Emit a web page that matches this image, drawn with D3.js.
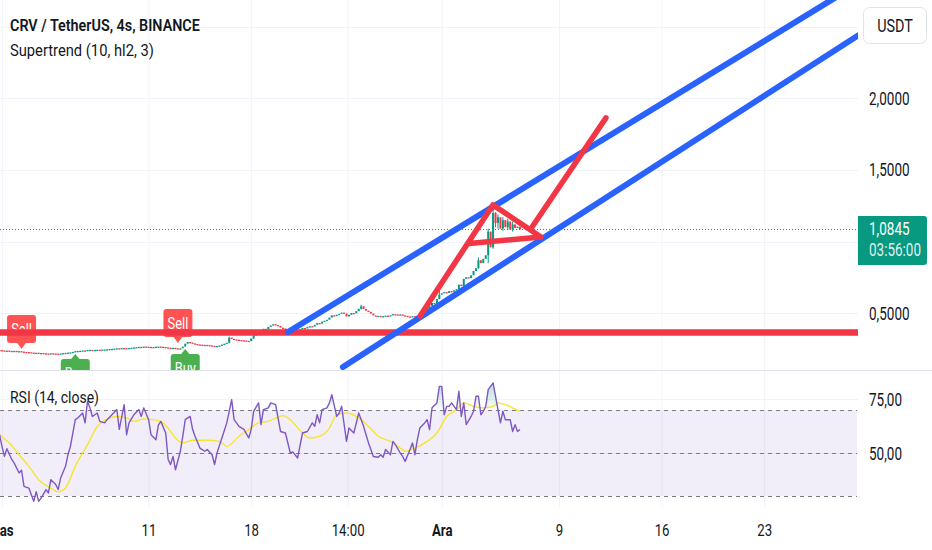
<!DOCTYPE html>
<html><head><meta charset="utf-8">
<script src="https://cdn.jsdelivr.net/npm/d3@7"></script>
<style>
html,body{margin:0;padding:0;background:#fff;}
svg{display:block;font-family:Roboto,"Noto Sans",sans-serif;}
</style>
</head><body>
<svg id="chart" width="932" height="550"></svg>
<script>
// ================= DATA =================
// 4h closes, CRV/USDT (bar 0 = 31 Oct evening, one bar per 4 hours)
const closes = [
0.243,0.241,0.239,0.240,0.238,0.237,0.238,0.235,0.236,0.233,
0.231,0.230,0.228,0.226,0.224,0.225,0.222,0.223,0.221,0.220,
0.219,0.221,0.220,0.219,0.218,0.220,0.222,0.224,0.226,0.228,
0.231,0.236,0.237,0.239,0.241,0.240,0.244,0.245,0.243,0.245,
0.246,0.245,0.247,0.248,0.249,0.251,0.252,0.254,0.256,0.253,
0.258,0.257,0.256,0.258,0.260,0.262,0.264,0.266,0.265,0.268,
0.267,0.266,0.264,0.265,0.267,0.268,0.267,0.265,0.262,0.260,
0.258,0.259,0.256,0.252,0.256,0.268,0.288,0.300,0.296,0.290,
0.286,0.283,0.281,0.279,0.280,0.278,0.276,0.273,0.270,0.272,
0.276,0.282,0.288,0.295,0.330,0.322,0.318,0.316,0.314,0.312,
0.310,0.308,0.306,0.325,0.345,0.360,0.358,0.375,0.392,0.388,
0.405,0.415,0.424,0.418,0.412,0.400,0.395,0.382,0.370,0.376,
0.372,0.380,0.378,0.388,0.398,0.394,0.405,0.410,0.408,0.420,
0.432,0.428,0.442,0.448,0.455,0.470,0.486,0.480,0.490,0.496,
0.505,0.498,0.478,0.490,0.502,0.500,0.515,0.532,0.548,0.530,
0.518,0.510,0.498,0.485,0.480,0.482,0.478,0.480,0.484,0.480,
0.486,0.494,0.492,0.490,0.492,0.486,0.482,0.478,0.476,0.480,
0.478,0.484,0.482,0.494,0.506,0.528,0.550,0.572,0.566,0.600,
0.630,0.640,0.648,0.642,0.655,0.650,0.660,0.668,0.700,0.690,
0.740,0.752,0.745,0.765,0.795,0.815,0.870,0.850,0.880,0.905,
1.070,0.960,1.200,1.130,1.170,1.090,1.150,1.100,1.140,1.085,
1.120,1.095,1.105,1.0845
];
const firstOpen = 0.244;
const firstBarDay = -0.194;   // days since 1 Nov of bar 0
const barsPerDay = 6;
// visible wicks: [bar, high, low]
const wicks = [
[94,0.338,0.290],[104,0.352,0.322],[148,0.560,0.526],[180,0.660,0.598],
[196,0.890,0.810],[200,1.090,0.850],[202,1.270,0.950],[203,1.205,1.100],
[204,1.190,1.090],[206,1.170,1.075],[208,1.160,1.080],[210,1.140,1.070]
];
// RSI(14) readings: [bar, value]
const rsi = [
[0,58.5],[1,53],[2,48.5],[3,52],[5,47],[6,45.3],[8,40.7],[9,42],[10,34.5],[12,33.7],
[13,30.6],[14,27.5],[15,32],[16,27.5],[17,29],[19,33],[20,31.4],[21,37.6],[23,35.3],[24,33],
[25,38.4],[27,43.8],[28,49.2],[29,53.1],[31,65.5],[32,66.3],[34,68.6],[35,64],[36,74],[37,71],
[38,67],[40,68.6],[41,64.7],[43,64],[44,65.5],[46,67.8],[48,70.2],[49,61],[51,72.5],[52,58.5],
[53,64],[55,67.8],[57,70.2],[58,67],[59,71],[61,65.5],[62,58.5],[64,56.2],[65,63],[66,64.7],
[68,59.3],[69,47],[70,44.6],[71,48.4],[72,42.2],[74,50.8],[75,57.8],[76,65.5],[78,67],[79,61],
[80,57.8],[82,52.3],[84,50.8],[85,51.6],[87,49.2],[88,44.6],[89,50],[91,57],[93,64],[95,74.8],
[96,65.5],[98,62.4],[100,61],[102,57],[103,61],[104,69.4],[106,73.3],[107,63.2],[108,70.2],[110,71],
[111,73.3],[113,72.5],[115,60],[117,59.3],[119,50],[120,50.5],[122,47.7],[124,59.3],[126,60],[128,64],
[129,62.4],[130,67.8],[131,64],[132,70.2],[134,71],[135,73.3],[136,77.1],[137,72],[138,67],[139,68.6],
[140,71.7],[142,55.4],[143,61.6],[145,59.3],[147,68.6],[149,62.4],[150,58.5],[151,54.7],[153,48.4],[155,48],
[156,49.2],[157,48],[158,51.6],[160,49.2],[161,55.4],[162,53.9],[164,50],[165,48.4],[166,46.1],[168,51.6],
[169,54.7],[170,49.2],[171,56.2],[172,61.6],[174,64],[175,65.5],[176,60.9],[177,71],[179,73.3],[180,81],
[181,81],[182,67.8],[183,71.7],[184,71.7],[185,73.3],[187,70.2],[188,78.7],[189,67],[190,73.3],[191,63.2],
[193,67],[194,69.4],[195,76.4],[196,76.4],[197,67.8],[198,69.4],[199,71.7],[200,79.5],[202,82.6],[204,70.2],
[205,64],[206,69.4],[207,65.5],[209,65.5],[210,60],[211,63.2],[212,60],[213,60.9]
];
// RSI-based moving average readings: [bar, value]
const rsiMA = [
[0,58.5],[4,54.6],[8,49.2],[12,43.8],[16,37.6],[21,33.7],[24,31.9],[27,33.7],[31,43.8],[36,53.9],
[40,62.4],[44,65.8],[48,67],[52,66.3],[55,64.7],[59,65.8],[63,65.5],[67,64],[70,60],[72,57],
[75,54.7],[79,55.9],[85,55.9],[90,55.4],[93,53.1],[98,57.8],[102,60.9],[106,64],[110,64.7],[116,67.4],
[119,65.5],[123,60.5],[127,57],[131,57.8],[135,61.6],[138,67.8],[142,68.6],[147,66.3],[151,62.4],[155,57.8],
[160,55.4],[164,52.3],[166,50.8],[170,52.3],[175,55.4],[179,59.3],[183,67],[187,70.2],[190,73.3],[194,71.7],
[198,71],[202,71.7],[204,73.3],[207,72.5],[210,71],[213,69.4]
];
// Supertrend signals
const signals = [
{type:"Sell", bar:9,  price:0.251},
{type:"Buy",  bar:31, price:0.216},
{type:"Sell", bar:73, price:0.293},
{type:"Buy",  bar:76, price:0.251}
];
// time axis (days since 1 Nov)
const timeTicks = [
{day:0, label:"Kas", bold:true},
{day:10, label:"11"},
{day:17, label:"18"},
{day:23.583, label:"14:00"},
{day:30, label:"Ara", bold:true},
{day:38, label:"9"},
{day:45, label:"16"},
{day:52, label:"23"}
];
const priceGrid = [0.5, 1.0, 1.5, 2.0, 2.5];
const priceLabels = [0.5, 1.5, 2.0];      // 1,0000 and 2,5000 are hidden behind the badges
const rsiTicks = [50, 75];
const rsiLevels = [70, 50, 30];
const lastPrice = 1.0845;
const countdown = "03:56:00";
// user drawings [day, price]
const srLevel = 0.366;
const channelUpper = [[19.48,0.3695],[57.14,2.7215]];
const channelLower = [[23.23,0.1253],[59.18,2.4909]];
const pennant = [[28.49,0.481],[33.46,1.256],[36.74,1.032],[31.83,0.987]];
const targetArrow = [[36.13,1.102],[41.17,1.863]];

// ================= LAYOUT =================
const W = 932, H = 550;
const plotR = 858, mainB = 370, rsiT = 371, rsiB = 507;
const GREEN = "#089981", RED = "#f23645", BLUE = "#2962ff", TXT = "#131722", GRID = "#f0f3fa";

const svg = d3.select("#chart");
const x = d3.scaleLinear().domain([0, 52]).range([2.4, 764.7]);
const y = d3.scaleLinear().domain([0.5, 2.0]).range([313.3, 98.2]);
const yR = d3.scaleLinear().domain([30, 70]).range([496, 410]);
const barDay = i => firstBarDay + i / barsPerDay;
const bx = i => x(barDay(i));

const defs = svg.append("defs");
defs.append("clipPath").attr("id","clipMain").append("rect").attr("x",0).attr("y",0).attr("width",plotR).attr("height",mainB);
defs.append("clipPath").attr("id","clipRsi").append("rect").attr("x",0).attr("y",rsiT).attr("width",plotR).attr("height",rsiB-rsiT);
defs.append("clipPath").attr("id","clipOB").append("rect").attr("x",0).attr("y",rsiT).attr("width",plotR).attr("height",yR(70)-rsiT);
defs.append("clipPath").attr("id","clipOS").append("rect").attr("x",0).attr("y",yR(30)).attr("width",plotR).attr("height",rsiB-yR(30));
const gOB = defs.append("linearGradient").attr("id","gOB").attr("gradientUnits","userSpaceOnUse")
  .attr("x1",0).attr("x2",0).attr("y1",yR(85)).attr("y2",yR(70));
gOB.append("stop").attr("offset",0).attr("stop-color",GREEN).attr("stop-opacity",0.35);
gOB.append("stop").attr("offset",1).attr("stop-color",GREEN).attr("stop-opacity",0.02);
const gOS = defs.append("linearGradient").attr("id","gOS").attr("gradientUnits","userSpaceOnUse")
  .attr("x1",0).attr("x2",0).attr("y1",yR(30)).attr("y2",yR(15));
gOS.append("stop").attr("offset",0).attr("stop-color",RED).attr("stop-opacity",0.02);
gOS.append("stop").attr("offset",1).attr("stop-color",RED).attr("stop-opacity",0.35);

svg.append("rect").attr("width",W).attr("height",H).attr("fill","#fff");

// text helper (horizontal scale to match the narrow rendering)
function addText(g, o){
  const t = g.append("text").text(o.text)
    .attr("font-size", o.size).attr("font-weight", o.weight || 400)
    .attr("fill", o.color || TXT).attr("text-anchor", o.anchor || "start");
  let s = o.sx || 1;
  if (o.fit) { const w = t.node().getComputedTextLength(); if (w > 0) s = o.fit / w; }
  t.attr("transform", `translate(${o.x},${o.y}) scale(${s},1)`);
  return t;
}

// ---- grid ----
const grid = svg.append("g");
grid.selectAll(".vg").data(timeTicks).join("line")
  .attr("x1", d=>x(d.day)).attr("x2", d=>x(d.day)).attr("y1",0).attr("y2",rsiB)
  .attr("stroke",GRID).attr("stroke-width",1);
grid.selectAll(".hg").data(priceGrid).join("line")
  .attr("x1",0).attr("x2",plotR).attr("y1",d=>Math.round(y(d))+0.5).attr("y2",d=>Math.round(y(d))+0.5)
  .attr("stroke",GRID).attr("stroke-width",1);
grid.selectAll(".rg").data(rsiTicks).join("line")
  .attr("x1",0).attr("x2",plotR).attr("y1",d=>Math.round(yR(d))+0.5).attr("y2",d=>Math.round(yR(d))+0.5)
  .attr("stroke",GRID).attr("stroke-width",1);

// ---- RSI pane ----
const rsiG = svg.append("g").attr("clip-path","url(#clipRsi)");
rsiG.append("rect").attr("x",0).attr("width",plotR-1).attr("y",yR(70)).attr("height",yR(30)-yR(70))
  .attr("fill","rgba(126,87,194,0.1)");
rsiG.selectAll(".lvl").data(rsiLevels).join("line")
  .attr("x1",0).attr("x2",plotR-1).attr("y1",d=>Math.round(yR(d))+0.5).attr("y2",d=>Math.round(yR(d))+0.5)
  .attr("stroke","#787b86").attr("stroke-width",1).attr("stroke-dasharray","4,4");
const rsiX = d => bx(d[0]);
rsiG.append("path").datum(rsi).attr("clip-path","url(#clipOB)")
  .attr("d", d3.area().x(rsiX).y0(yR(70)).y1(d=>yR(d[1]))).attr("fill","url(#gOB)");
rsiG.append("path").datum(rsi).attr("clip-path","url(#clipOS)")
  .attr("d", d3.area().x(rsiX).y0(yR(30)).y1(d=>yR(d[1]))).attr("fill","url(#gOS)");
rsiG.append("path").datum(rsiMA)
  .attr("d", d3.line().x(rsiX).y(d=>yR(d[1])).curve(d3.curveMonotoneX))
  .attr("fill","none").attr("stroke","#f7e52d").attr("stroke-width",1.4);
rsiG.append("path").datum(rsi)
  .attr("d", d3.line().x(rsiX).y(d=>yR(d[1])))
  .attr("fill","none").attr("stroke","#7e57c2").attr("stroke-width",1.4).attr("stroke-linejoin","round");

// ---- main pane ----
const mainG = svg.append("g").attr("clip-path","url(#clipMain)");
const bars = closes.map((c,i)=>({i, o: i===0 ? firstOpen : closes[i-1], c}));
mainG.selectAll(".wick").data(wicks).join("line")
  .attr("x1",d=>bx(d[0])).attr("x2",d=>bx(d[0])).attr("y1",d=>y(d[1])).attr("y2",d=>y(d[2]))
  .attr("stroke",d=>{const b=bars[d[0]]; return b.c>=b.o?GREEN:RED;}).attr("stroke-width",1);
mainG.selectAll(".body").data(bars).join("rect")
  .attr("x",d=>bx(d.i)-1).attr("width",2)
  .attr("y",d=>y(Math.max(d.o,d.c)))
  .attr("height",d=>Math.max(1.3, Math.abs(y(d.o)-y(d.c))))
  .attr("fill",d=>d.c>=d.o?GREEN:RED);

// supertrend signal labels
signals.forEach(s=>{
  const cx = bx(s.bar), tip = y(s.price);
  const g = mainG.append("g");
  const col = s.type==="Sell" ? "#ff5252" : "#4caf50";
  let top;
  if (s.type==="Sell"){
    top = tip - 34;
    g.append("path").attr("d",`M${cx-5},${tip-7}L${cx+5},${tip-7}L${cx},${tip}Z`).attr("fill",col);
  } else {
    top = tip + 5;
    g.append("path").attr("d",`M${cx-5},${tip+6}L${cx+5},${tip+6}L${cx},${tip}Z`).attr("fill",col);
  }
  g.append("rect").attr("x",cx-14.5).attr("y",top).attr("width",29).attr("height",28).attr("rx",3).attr("fill",col);
  addText(g,{x:cx, y:top+20, text:s.type, size:16.5, color:"#fff", anchor:"middle", sx:0.78});
});

// last price dotted line
mainG.append("line").attr("x1",0).attr("x2",plotR).attr("y1",y(lastPrice)).attr("y2",y(lastPrice))
  .attr("stroke",GREEN).attr("stroke-width",1).attr("stroke-dasharray","1,2");

// drawings
const dl = d3.line().x(d=>x(d[0])).y(d=>y(d[1]));
mainG.append("line").attr("x1",0).attr("x2",plotR).attr("y1",y(srLevel)).attr("y2",y(srLevel))
  .attr("stroke",RED).attr("stroke-width",6.3);
[channelUpper, channelLower].forEach(c=>{
  mainG.append("path").attr("d",dl(c)).attr("fill","none").attr("stroke",BLUE)
    .attr("stroke-width",6).attr("stroke-linecap","round");
});
mainG.append("path").attr("d",dl(pennant)).attr("fill","none").attr("stroke",RED)
  .attr("stroke-width",5.5).attr("stroke-linejoin","round").attr("stroke-linecap","round");
mainG.append("path").attr("d",dl(targetArrow)).attr("fill","none").attr("stroke",RED)
  .attr("stroke-width",5.5).attr("stroke-linecap","round");

// pane separator
svg.append("line").attr("x1",0).attr("x2",W).attr("y1",mainB+0.5).attr("y2",mainB+0.5)
  .attr("stroke","#e0e3eb").attr("stroke-width",1);

// ---- axes ----
const axG = svg.append("g");
priceLabels.forEach(p=>{
  addText(axG,{x:869, y:y(p)+6.5, text:d3.format(".4f")(p).replace(".",","), size:18, sx:0.75});
});
rsiTicks.forEach(v=>{
  addText(axG,{x:869, y:yR(v)+6.5, text:d3.format(".2f")(v).replace(".",","), size:18, sx:0.75});
});
timeTicks.forEach(t=>{
  addText(axG,{x:x(t.day), y:536, text:t.label, size:16.5, weight:t.bold?700:400, anchor:"middle", sx:0.8});
});

// currency box
axG.append("rect").attr("x",863.5).attr("y",7.5).attr("width",63).attr("height",36).attr("rx",6)
  .attr("fill","#fff").attr("stroke","#e0e3eb");
addText(axG,{x:895, y:32, text:"USDT", size:18, anchor:"middle", sx:0.8});

// last price label
axG.append("path").attr("d", (()=>{const x0=858,x1=927,y0=216,y1=265,r=3;
  return `M${x0},${y0}H${x1-r}Q${x1},${y0} ${x1},${y0+r}V${y1-r}Q${x1},${y1} ${x1-r},${y1}H${x0}Z`;})())
  .attr("fill",GREEN);
addText(axG,{x:869, y:234.5, text:d3.format(".4f")(lastPrice).replace(".",","), size:18, color:"#fff", sx:0.75});
addText(axG,{x:869, y:256, text:countdown, size:18, color:"rgba(255,255,255,0.88)", sx:0.75});

// ---- legends ----
const lg = svg.append("g");
addText(lg,{x:10, y:31, text:"CRV / TetherUS, 4s, BINANCE", size:16.5, weight:600, fit:190});
addText(lg,{x:10, y:56, text:"Supertrend (10, hl2, 3)", size:16.5, fit:144});
addText(lg,{x:10, y:403, text:"RSI (14, close)", size:16.5, fit:89});
</script>
</body></html>
